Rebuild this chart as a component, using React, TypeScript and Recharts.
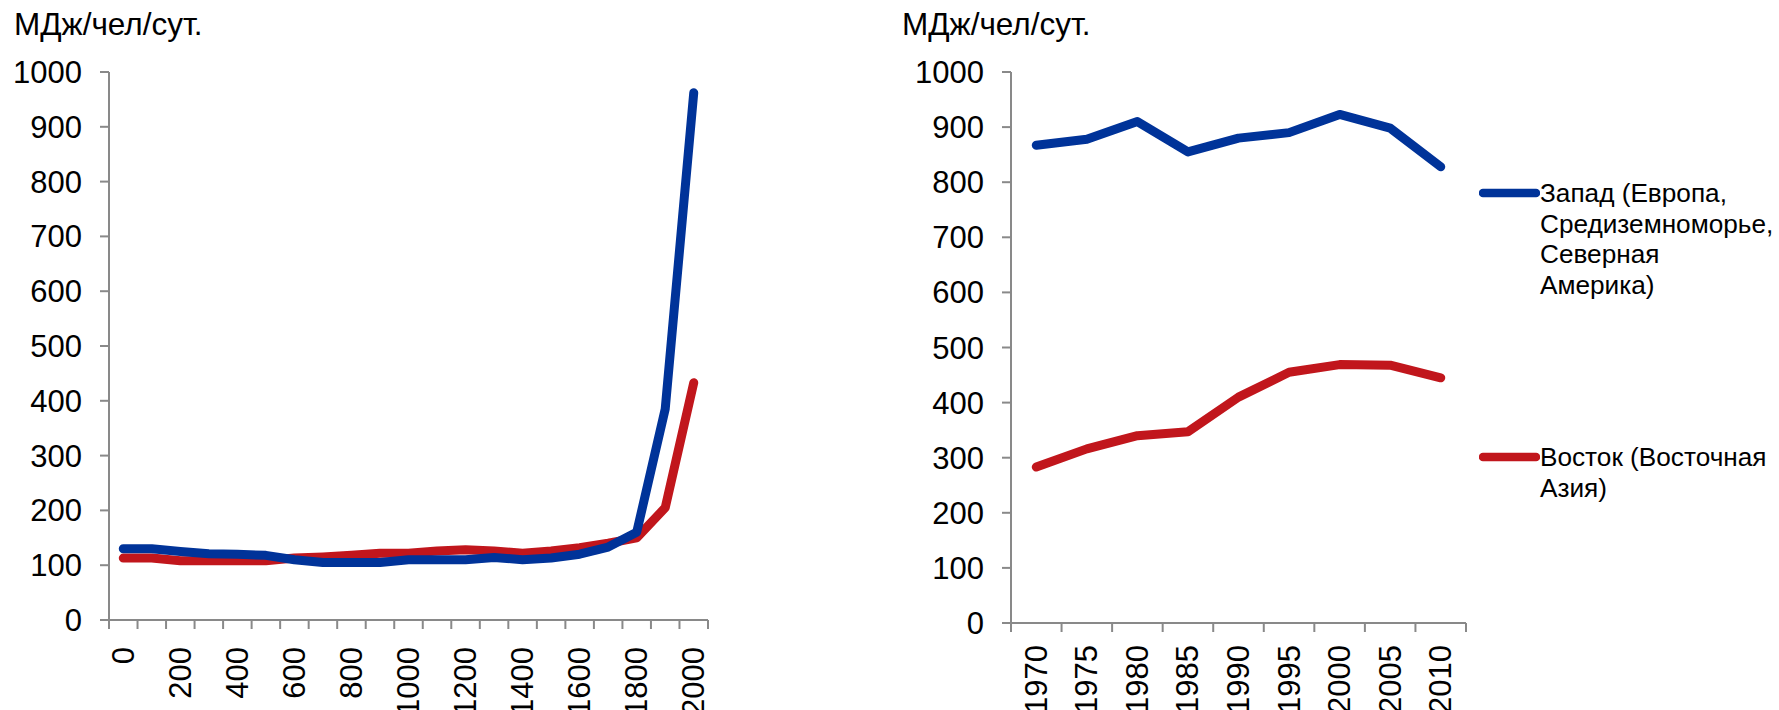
import { LineChart, Line, XAxis, YAxis } from "recharts";

// long run: year 0 .. 2000
const longYears = [0, 100, 200, 300, 400, 500, 600, 700, 800, 900, 1000, 1100, 1200, 1300, 1400, 1500, 1600, 1700, 1800, 1900, 2000];
const longWest = [130, 130, 125, 121, 120, 118, 110, 105, 105, 105, 110, 110, 110, 114, 110, 113, 120, 133, 160, 385, 962];
const longEast = [113, 113, 108, 108, 108, 108, 113, 115, 118, 122, 122, 126, 128, 126, 122, 126, 132, 140, 150, 205, 433];
const longBounds = [-50, 50, 150, 250, 350, 450, 550, 650, 750, 850, 950, 1050, 1150, 1250, 1350, 1450, 1550, 1650, 1750, 1850, 1950, 2050];
const longLabels = [0, 200, 400, 600, 800, 1000, 1200, 1400, 1600, 1800, 2000];

// recent: 1970 .. 2010
const recentYears = [1970, 1975, 1980, 1985, 1990, 1995, 2000, 2005, 2010];
const recentWest = [867, 878, 910, 855, 880, 890, 923, 898, 828];
const recentEast = [283, 316, 340, 347, 410, 455, 469, 468, 445];
const recentBounds = [1967.5, 1972.5, 1977.5, 1982.5, 1987.5, 1992.5, 1997.5, 2002.5, 2007.5, 2012.5];
const recentLabels = [1970, 1975, 1980, 1985, 1990, 1995, 2000, 2005, 2010];

const yTicks = [0, 100, 200, 300, 400, 500, 600, 700, 800, 900, 1000];
const unitLabel = "МДж/чел/сут.";
const westName = "Запад (Европа,\nСредиземноморье,\nСеверная\nАмерика)";
const eastName = "Восток (Восточная\nАзия)";

const FONT = '"Liberation Sans", Arial, sans-serif';
const AXIS = "#898989";
const BLUE = "#003399";
const RED = "#C1161C";
const TICK_SIZE = 9;

const longData = longYears.map((year, i) => ({ year, west: longWest[i], east: longEast[i] }));
const recentData = recentYears.map((year, i) => ({ year, west: recentWest[i], east: recentEast[i] }));

function makeXTick(bounds: number[], labels: number[], margin: number) {
  const b = new Set(bounds);
  const l = new Set(labels);
  return (props: any) => {
    const { x, y, payload } = props;
    const v = payload.value;
    return (
      <g>
        {b.has(v) && (
          <line x1={x} x2={x} y1={y - margin - TICK_SIZE} y2={y - margin} stroke={AXIS} strokeWidth={2} />
        )}
        {l.has(v) && (
          <text
            x={x}
            y={y}
            transform={`rotate(-90, ${x}, ${y})`}
            textAnchor="end"
            dominantBaseline="central"
            fontSize={31}
            fontFamily={FONT}
            fill="#000"
          >
            {v}
          </text>
        )}
      </g>
    );
  };
}

function Panel({ data, bounds, labels, domain, width, margin, yWidth, xHeight, xMargin }: any) {
  const ticks = [...bounds, ...labels].sort((a, b) => a - b);
  return (
    <LineChart width={width} height={710} data={data} margin={margin}>
      <XAxis
        dataKey="year"
        type="number"
        domain={domain}
        ticks={ticks}
        interval={0}
        tick={makeXTick(bounds, labels, xMargin)}
        tickLine={false}
        tickSize={TICK_SIZE}
        tickMargin={xMargin}
        height={xHeight}
        axisLine={{ stroke: AXIS, strokeWidth: 2 }}
      />
      <YAxis
        domain={[0, 1000]}
        ticks={yTicks}
        interval={0}
        width={yWidth}
        tickSize={TICK_SIZE}
        tickMargin={18}
        axisLine={{ stroke: AXIS, strokeWidth: 2 }}
        tickLine={{ stroke: AXIS, strokeWidth: 2 }}
        tick={{ fill: "#000", fontSize: 31, fontFamily: FONT }}
      />
      <Line dataKey="east" stroke={RED} strokeWidth={9} dot={false} strokeLinecap="round" strokeLinejoin="round" isAnimationActive={false} />
      <Line dataKey="west" stroke={BLUE} strokeWidth={9} dot={false} strokeLinecap="round" strokeLinejoin="round" isAnimationActive={false} />
    </LineChart>
  );
}

function LegendItem({ color, name, top }: { color: string; name: string; top: number }) {
  return (
    <div style={{ position: "absolute", left: 1479, top, display: "flex", alignItems: "flex-start" }}>
      <svg width={61} height={30} style={{ flex: "none" }}>
        <line x1={4} x2={57} y1={15} y2={15} stroke={color} strokeWidth={8.5} strokeLinecap="round" />
      </svg>
      <div style={{ whiteSpace: "pre-line", fontSize: 26.2, lineHeight: "30.5px", color: "#000" }}>{name}</div>
    </div>
  );
}

export default function App() {
  const titleStyle: any = { position: "absolute", top: 9, fontSize: 31.5, lineHeight: "31px", color: "#000" };
  return (
    <div style={{ position: "absolute", left: 0, top: 0, width: 1779, height: 710, background: "#fff", overflow: "hidden", fontFamily: FONT }}>
      <div style={{ position: "absolute", left: 0, top: 0 }}>
        <Panel
          data={longData}
          bounds={longBounds}
          labels={longLabels}
          domain={[-50, 2050]}
          width={760}
          margin={{ top: 72, right: 52, bottom: 0, left: 0 }}
          yWidth={109}
          xHeight={90}
          xMargin={18}
        />
      </div>
      <div style={{ position: "absolute", left: 880, top: 0 }}>
        <Panel
          data={recentData}
          bounds={recentBounds}
          labels={recentLabels}
          domain={[1967.5, 2012.5]}
          width={600}
          margin={{ top: 72, right: 14, bottom: 0, left: 0 }}
          yWidth={131}
          xHeight={87}
          xMargin={13}
        />
      </div>
      <div style={{ ...titleStyle, left: 14 }}>{unitLabel}</div>
      <div style={{ ...titleStyle, left: 902 }}>{unitLabel}</div>
      <LegendItem color={BLUE} name={westName} top={178} />
      <LegendItem color={RED} name={eastName} top={442} />
    </div>
  );
}
